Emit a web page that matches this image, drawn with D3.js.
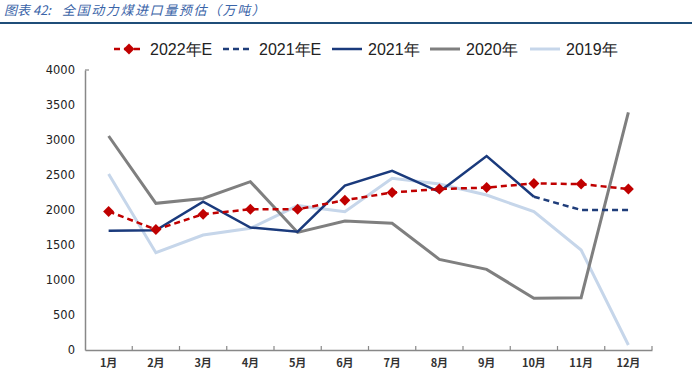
<!DOCTYPE html>
<html><head><meta charset="utf-8">
<script src="https://cdn.jsdelivr.net/npm/d3@7"></script>
<style>body{margin:0;background:#fff}svg{display:block}</style>
</head><body><svg id="c" width="692" height="383"></svg>
<script>
const months = ["1月","2月","3月","4月","5月","6月","7月","8月","9月","10月","11月","12月"];
const yTicks = [0,500,1000,1500,2000,2500,3000,3500,4000];
const s2022E = [1980,1720,1940,2010,2010,2140,2250,2300,2320,2380,2370,2300];
const s2021E = [null,null,null,null,null,null,null,null,null,2190,2000,2000];
const s2021 = [1705,1710,2120,1750,1690,2350,2560,2260,2770,2190,null,null];
const s2020 = [3057,2095,2165,2405,1680,1843,1810,1295,1152,740,748,3395];
const s2019 = [2514,1390,1643,1738,2062,1976,2452,2371,2214,1976,1429,71];

const series = [
  {name:"2022年E", data:s2022E, color:"#c00000", dash:"6,4", width:2.5, marker:true},
  {name:"2021年E", data:s2021E, color:"#1f3d7a", dash:"6,4", width:2.5},
  {name:"2021年", data:s2021, color:"#1a3a7c", dash:null, width:2.5},
  {name:"2020年", data:s2020, color:"#7f7f7f", dash:null, width:3},
  {name:"2019年", data:s2019, color:"#c6d6ea", dash:null, width:3}
];

const svg = d3.select("#c");
const L=85, R=652, T=70, B=350;
const x = d3.scaleBand().domain(months).range([L,R]);
const y = d3.scaleLinear().domain([0,4000]).range([B,T]);

// title
const tt = svg.append("text").attr("x",4).attr("y",15).attr("font-family","Noto Sans CJK SC, sans-serif")
  .attr("font-size",13).attr("font-style","italic").attr("fill","#3a64a8");
tt.append("tspan").text("图表 42:");
tt.append("tspan").attr("x",62).attr("letter-spacing",1.6).text("全国动力煤进口量预估（万吨）");
svg.append("line").attr("x1",0).attr("x2",692).attr("y1",23).attr("y2",23).attr("stroke","#1f4e79").attr("stroke-width",2);

// axes
const yAxis = svg.append("g").attr("transform",`translate(${L},0)`)
  .call(d3.axisLeft(y).tickValues(yTicks).tickFormat(d3.format("d")).tickSize(0).tickSizeOuter(0).tickPadding(10));
yAxis.selectAll("text").attr("font-family","DejaVu Sans, Verdana, sans-serif").attr("font-size",11.5).attr("fill","#222");
yAxis.select(".domain").attr("stroke","#888").attr("stroke-width",1.5);

const xg = svg.append("g").attr("transform",`translate(0,${B})`)
  .call(d3.axisBottom(x).tickSize(0).tickPadding(9));
xg.select(".domain").attr("stroke","#888").attr("stroke-width",1.5);
xg.selectAll("text").attr("font-family","Noto Sans CJK SC, sans-serif").attr("font-size",11).attr("font-weight","bold").attr("fill","#333");
svg.append("g").selectAll("line").data(months.slice(1).map(m=>x(m)).concat([R])).join("line")
  .attr("x1",d=>d).attr("x2",d=>d).attr("y1",B).attr("y2",B-4).attr("stroke","#888").attr("stroke-width",1.2);
svg.append("line").attr("x1",L).attr("x2",L+4).attr("y1",T).attr("y2",T).attr("stroke","#888").attr("stroke-width",1.2);

const cx = (i)=>x(months[i])+x.bandwidth()/2;
const line = d3.line().defined(d=>d!=null).x((d,i)=>cx(i)).y(d=>y(d));
const diamond = d3.symbol(d3.symbolSquare,60)();

[4,3,2,1,0].forEach(k=>{
  const s = series[k];
  svg.append("path").datum(s.data).attr("d",line).attr("fill","none")
    .attr("stroke",s.color).attr("stroke-width",s.width).attr("stroke-dasharray",s.dash)
    .attr("stroke-linejoin","miter");
  if(s.marker){
    svg.append("g").selectAll("path").data(s.data.map((v,i)=>[i,v]).filter(d=>d[1]!=null)).join("path")
      .attr("d",diamond)
      .attr("transform",d=>`translate(${cx(d[0])},${y(d[1])}) rotate(45)`)
      .attr("fill",s.color);
  }
});

// legend
const legX = [114,223,332,430,530];
const lg = svg.append("g");
series.forEach((s,i)=>{
  const g = lg.append("g").attr("transform",`translate(${legX[i]},49)`);
  g.append("line").attr("x1",0).attr("x2",30).attr("y1",0).attr("y2",0)
    .attr("stroke",s.color).attr("stroke-width",s.width).attr("stroke-dasharray",s.dash);
  if(s.marker) g.append("path").attr("d",diamond).attr("transform","translate(15,0) rotate(45)").attr("fill",s.color);
  g.append("text").attr("x",36).attr("y",6).attr("font-family","Liberation Sans, Arial, sans-serif")
    .attr("font-size",16).attr("fill","#222").text(s.name);
});
</script></body></html>
